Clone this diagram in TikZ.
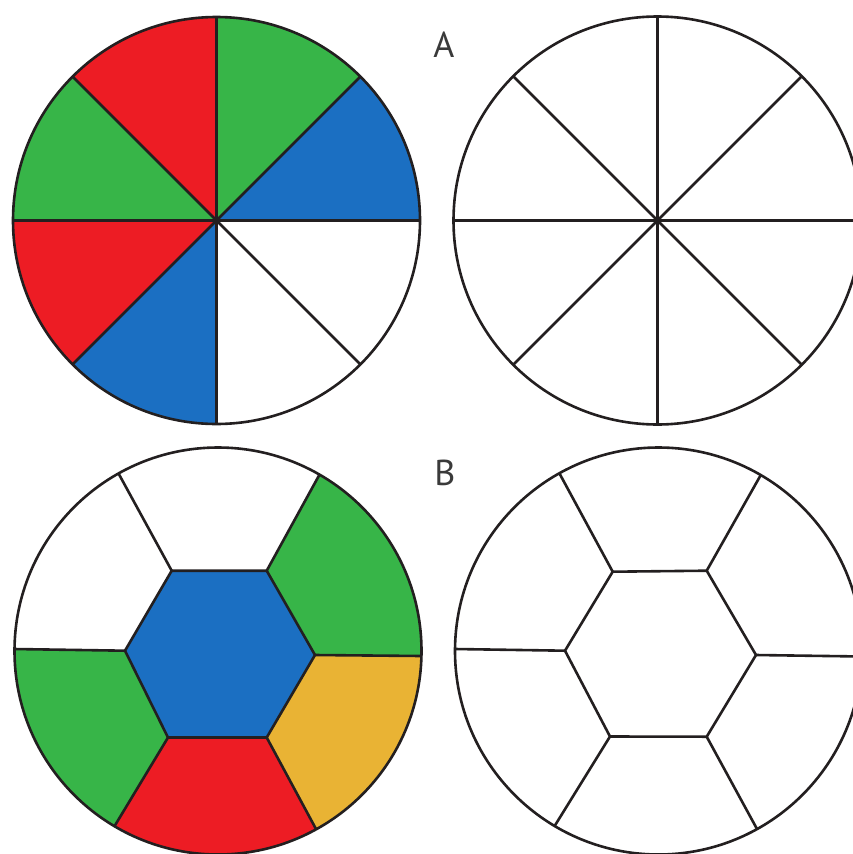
\documentclass[tikz,border=0pt]{standalone}
\usepackage{fontspec}
\setsansfont{PT Sans}
\usetikzlibrary{calc}
\definecolor{cred}{HTML}{ED1C24}
\definecolor{cgreen}{HTML}{37B548}
\definecolor{cblue}{HTML}{1B6FC2}
\definecolor{cyellow}{HTML}{E9B334}
\definecolor{cline}{HTML}{231F20}
\definecolor{ctext}{HTML}{3A3A3A}
\tikzset{
  outline/.style={draw=cline, line width=2.6pt, line join=round},
  letter/.style={font=\sffamily\fontsize{36}{36}\selectfont, text=ctext, inner sep=0pt}
}
\begin{document}
\begin{tikzpicture}[x=1pt,y=-1pt]
\useasboundingbox (0,0) rectangle (853,854);

% ---------- top left: coloured 8 sectors ----------
\coordinate (c1) at (216.5,220.5);
\begin{scope}
  \clip (c1) circle[radius=203.5];
  \foreach \a/\col in {-90/cgreen,-45/cblue,90/cblue,135/cred,180/cgreen,225/cred}{
    \fill[\col] (c1) -- ($(c1)+(\a:320)$) -- ($(c1)+({\a+22.5}:340)$) -- ($(c1)+({\a+45}:320)$) -- cycle;
  }
\end{scope}
\foreach \a in {0,45,...,315}{
  \draw[outline] (c1) -- ($(c1)+(\a:203.5)$);
}
\draw[outline] (c1) circle[radius=203.5];

% ---------- top right: empty 8 sectors ----------
\coordinate (c2) at (657.5,220.5);
\foreach \a in {0,45,...,315}{
  \draw[outline] (c2) -- ($(c2)+(\a:204)$);
}
\draw[outline] (c2) circle[radius=204];

% ---------- bottom left: coloured hexagon pattern ----------
\coordinate (c3) at (218,651);
\coordinate (h0) at (315,655);
\coordinate (h1) at (266.7,570.7);
\coordinate (h2) at (171.7,570.7);
\coordinate (h3) at (125,650.7);
\coordinate (h4) at (168,737.5);
\coordinate (h5) at (266.7,737.5);
\coordinate (s0) at (421.5,656);
\coordinate (s1) at (319,475.5);
\coordinate (s2) at (118,472.5);
\coordinate (s3) at (14,649);
\coordinate (s4) at (114,827);
\coordinate (s5) at (316,829);
\begin{scope}
  \clip (c3) circle[radius=203.5];
  \fill[cgreen]  (h0) -- ($(h0)!3!(s0)$) -- ($(h1)!3!(s1)$) -- (h1) -- cycle;
  \fill[cgreen]  (h3) -- ($(h3)!3!(s3)$) -- ($(h4)!3!(s4)$) -- (h4) -- cycle;
  \fill[cred]    (h4) -- ($(h4)!3!(s4)$) -- ($(h5)!3!(s5)$) -- (h5) -- cycle;
  \fill[cyellow] (h5) -- ($(h5)!3!(s5)$) -- ($(h0)!3!(s0)$) -- (h0) -- cycle;
  \foreach \i in {0,...,5}{
    \draw[outline] (h\i) -- ($(h\i)!1.15!(s\i)$);
  }
\end{scope}
\filldraw[outline, fill=cblue] (h0) -- (h1) -- (h2) -- (h3) -- (h4) -- (h5) -- cycle;
\draw[outline] (c3) circle[radius=203.5];

% ---------- bottom right: empty hexagon pattern ----------
\coordinate (c4) at (658.5,651);
\coordinate (g0) at (756,655);
\coordinate (g1) at (706.7,570.7);
\coordinate (g2) at (612.7,571.7);
\coordinate (g3) at (565,650.7);
\coordinate (g4) at (610,736.5);
\coordinate (g5) at (706.7,736.7);
\coordinate (t0) at (862,656.5);
\coordinate (t1) at (760.5,475.5);
\coordinate (t2) at (559.5,473.5);
\coordinate (t3) at (455,649);
\coordinate (t4) at (554,827);
\coordinate (t5) at (757,829);
\begin{scope}
  \clip (c4) circle[radius=203.5];
  \foreach \i in {0,...,5}{
    \draw[outline] (g\i) -- ($(g\i)!1.15!(t\i)$);
  }
\end{scope}
\draw[outline] (g0) -- (g1) -- (g2) -- (g3) -- (g4) -- (g5) -- cycle;
\draw[outline] (c4) circle[radius=203.5];

% ---------- labels ----------
\node[letter] (labA) at (444,45) {A};
\node[letter] (labB) at (445,473) {B};
\end{tikzpicture}
\end{document}
